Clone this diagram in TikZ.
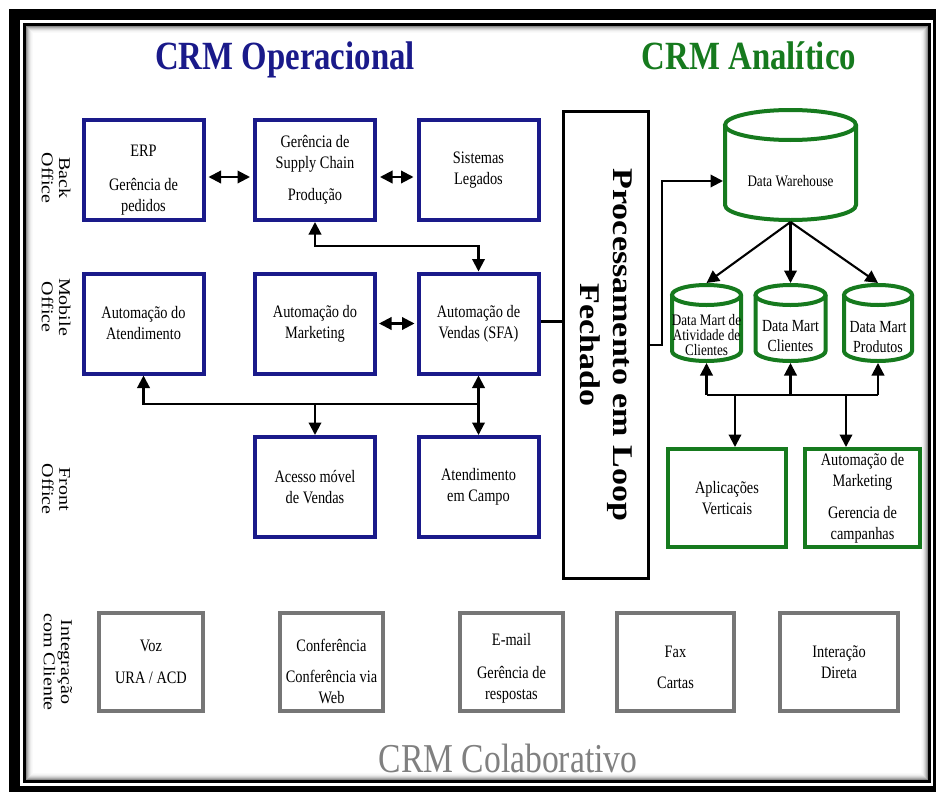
\documentclass[tikz,border=0pt]{standalone}
\usepackage{fontspec}
\setmainfont{Liberation Serif}[FakeStretch=0.82]
\newfontfamily\plainserif{Liberation Serif}
\usetikzlibrary{arrows.meta}

\definecolor{opblue}{RGB}{26,26,138}
\definecolor{angreen}{RGB}{22,122,30}
\definecolor{colgray}{RGB}{118,118,118}
\definecolor{coltitle}{RGB}{128,128,128}

\begin{document}
\begin{tikzpicture}[x=1pt, y=-1pt,
  boxtext/.style={align=center, inner sep=0pt, font=\fontsize{17.5}{21}\selectfont},
  opbox/.style={boxtext, draw=opblue, line width=4pt, minimum width=120pt, minimum height=100pt},
  anbox/.style={boxtext, draw=angreen, line width=4pt, minimum height=98pt},
  cobox/.style={boxtext, draw=colgray, line width=4pt, minimum height=98pt},
  loopbox/.style={draw=black, line width=3pt, minimum width=85pt, minimum height=467pt, inner sep=0pt},
  shell/.style={inner sep=0pt, outer sep=2pt},
  cylline/.style={draw=angreen, line width=4pt},
  conn/.style={line width=2.1pt},
  arr/.style={conn, -{Triangle[length=12.5pt,width=12.5pt]}},
  darr/.style={conn, {Triangle[length=12.5pt,width=12.5pt]}-{Triangle[length=12.5pt,width=12.5pt]}},
  sidelbl/.style={rotate=-90, yscale=0.82, align=center, inner sep=0pt,
                  font=\plainserif\fontsize{20}{21}\selectfont},
  title/.style={anchor=base, inner sep=0pt, font=\fontsize{40}{44}\selectfont\bfseries},
]
\useasboundingbox (0,0) rectangle (936,792);
\fill[white] (0,0) rectangle (936,792);

% double frame with inner shadow
\fill[black] (9,9) rectangle (936,792);
\fill[white] (20,20) rectangle (933,786);
\draw[line width=3pt] (24.5,24.5) rectangle (929.5,781.5);
\foreach \i/\c in {1/45,2/32,3/22,4/14,5/8,6/4,7/2}
  \draw[black!\c, line width=1pt] ({25.5+\i},{25.5+\i}) rectangle ({928.5-\i},{780.5-\i});

% titles
\node[title, text=opblue] (tOp) at (285,70) {CRM Operacional};
\node[title, text=angreen] (tAn) at (749,70) {CRM Analítico};
\node[anchor=base, inner sep=0pt, text=coltitle, font=\fontsize{41}{45}\selectfont] (tCo) at (508,772) {CRM Colaborativo};

% row labels
\node[sidelbl] (sBack) at (56,178) {Back\\Office};
\node[sidelbl] (sMob) at (56,307) {Mobile\\Office};
\node[sidelbl] (sFront) at (56,489) {Front\\Office};
\node[sidelbl] (sInt) at (58,662) {Integração\\com Cliente};

% operational CRM
\node[opbox] (erp) at (143.5,170) {\rule{0pt}{31pt}ERP\\[13pt]Gerência de\\pedidos};
\node[opbox] (sc) at (315,170) {Gerência de\\Supply Chain\\[11pt]Produção};
\node[opbox] (leg) at (478.5,170) {Sistemas\\Legados};
\node[opbox] (atd) at (143.5,323.5) {Automação do\\Atendimento};
\node[opbox] (mkt) at (315,323.5) {Automação do\\Marketing};
\node[opbox] (sfa) at (478.5,323.5) {Automação de\\Vendas (SFA)};
\node[opbox] (mob) at (315,487) {Acesso móvel\\de Vendas};
\node[opbox] (camp) at (478.5,487) {Atendimento\\em Campo};

% closed loop
\node[loopbox] (loop) at (606,345) {};
\node[rotate=-90, yscale=0.84, align=center, inner sep=0pt,
      font=\plainserif\bfseries\fontsize{34}{39}\selectfont] (looplbl) at (loop.center)
      {Processamento em Loop\\Fechado};

% analytical CRM: data warehouse
\node[shell, minimum width=131pt, minimum height=110pt] (dw) at (790.5,165) {};
\draw[cylline] (790.5,125) ellipse [x radius=65.5pt, y radius=15pt];
\draw[cylline] (725,125) -- (725,205) arc[start angle=180, end angle=360, x radius=65.5pt, y radius=15pt] -- (856,125);
\node[boxtext, font=\fontsize{16}{19}\selectfont] (dwlbl) at (790.5,181) {Data Warehouse};

% data marts
\node[shell, minimum width=69pt, minimum height=76pt] (dm1) at (706.5,323) {};
\node[shell, minimum width=70pt, minimum height=76pt] (dm2) at (790.5,323) {};
\node[shell, minimum width=68pt, minimum height=76pt] (dm3) at (878,323) {};
\draw[cylline] (706.5,295) ellipse [x radius=34.5pt, y radius=10pt];
\draw[cylline] (672,295) -- (672,351) arc[start angle=180, end angle=360, x radius=34.5pt, y radius=10pt] -- (741,295);
\draw[cylline] (790.5,295) ellipse [x radius=35pt, y radius=10pt];
\draw[cylline] (755.5,295) -- (755.5,351) arc[start angle=180, end angle=360, x radius=35pt, y radius=10pt] -- (825.5,295);
\draw[cylline] (878,295) ellipse [x radius=34pt, y radius=10pt];
\draw[cylline] (844,295) -- (844,351) arc[start angle=180, end angle=360, x radius=34pt, y radius=10pt] -- (912,295);
\node[boxtext, font=\fontsize{16}{15}\selectfont] (dm1t) at (706.5,335) {Data Mart de\\Atividade de\\Clientes};
\node[boxtext, font=\fontsize{17}{20}\selectfont] (dm2t) at (790.5,336) {Data Mart\\Clientes};
\node[boxtext, font=\fontsize{17}{20}\selectfont] (dm3t) at (878,337) {Data Mart\\Produtos};

% analytical applications
\node[anbox, minimum width=118pt] (ap) at (727,498) {Aplicações\\Verticais};
\node[anbox, minimum width=115pt] (am) at (862.5,498) {Automação de\\Marketing\\[11pt]Gerencia de\\campanhas};

% collaborative CRM channels
\node[cobox, minimum width=104pt] (voz) at (151,662) {Voz\\[11pt]URA / ACD};
\node[cobox, minimum width=103pt] (conf) at (331.5,662) {\rule{0pt}{32pt}Conferência\\[10pt]Conferência via\\Web};
\node[cobox, minimum width=103pt] (mail) at (511.5,662) {\rule{0pt}{24pt}E-mail\\[12pt]Gerência de\\respostas};
\node[cobox, minimum width=117pt] (fax) at (675.5,662) {\rule{0pt}{22pt}Fax\\[10pt]Cartas};
\node[cobox, minimum width=118pt] (dir) at (839,662) {Interação\\Direta};

% operational connectors
\draw[darr, shorten <=3pt, shorten >=3pt] ([yshift=-7pt]erp.east) -- ([yshift=-7pt]sc.west);
\draw[darr, shorten <=3pt, shorten >=3pt] ([yshift=-7pt]sc.east) -- ([yshift=-7pt]leg.west);
\draw[darr] (sc.south) -- ++(0,24) -| (sfa.north);
\draw[darr, shorten <=2pt, shorten >=2pt] (mkt.east) -- (sfa.west);
\draw[conn] ([yshift=2pt]sfa.east) -- ([yshift=2pt]sfa.east -| loop.west);
\coordinate (busL) at (143.5,404);
\coordinate (busR) at (478.5,404);
\draw[arr] (busR) -- (busL) -- (atd.south);
\draw[arr] (busR) -- (sfa.south);
\draw[arr] (busR) -- (camp.north);
\draw[arr] (mob.north |- busR) -- (mob.north);

% analytical connectors
\draw[arr] (loop.east) -- ++(12,0) |- (dw.west |- dwlbl.center);
\draw[arr] (dw.south) -- (dm1.north);
\draw[arr] (dw.south) -- (dm2.north);
\draw[arr] (dw.south) -- (dm3.north);
\coordinate (mbL) at (706.5,395);
\coordinate (mbR) at (878,395);
\draw[conn] (mbL) -- (mbR);
\draw[arr] (mbL) -- (dm1.south);
\draw[arr] (dm2.south |- mbL) -- (dm2.south);
\draw[arr] (mbR) -- (dm3.south);
\coordinate (apIn) at (735,395);
\coordinate (amIn) at (846,395);
\draw[arr] (apIn) -- (apIn |- ap.north);
\draw[arr] (amIn) -- (amIn |- am.north);
\end{tikzpicture}
\end{document}
